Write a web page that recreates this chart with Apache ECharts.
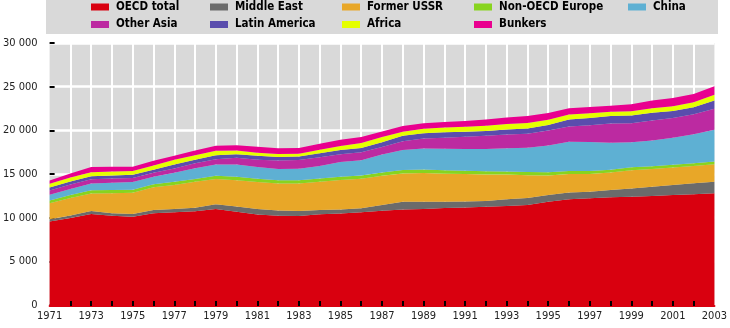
<!DOCTYPE html>
<html>
<head>
<meta charset="utf-8">
<script src="https://cdn.jsdelivr.net/npm/echarts@6/dist/echarts.min.js"></script>
<style>html,body{margin:0;padding:0;background:#fff;}#c{width:730px;height:328px;}</style>
</head>
<body>
<div id="c"></div>
<script>
const years = [1971,1972,1973,1974,1975,1976,1977,1978,1979,1980,1981,1982,1983,1984,1985,1986,1987,1988,1989,1990,1991,1992,1993,1994,1995,1996,1997,1998,1999,2000,2001,2002,2003].map(String);

const oecdTotal    = [9560,9960,10420,10230,10110,10500,10610,10730,10990,10680,10360,10210,10190,10390,10480,10610,10800,10930,10990,11110,11160,11240,11340,11450,11820,12100,12220,12330,12400,12480,12600,12680,12790];
const middleEast   = [250,290,330,280,310,370,380,410,560,600,620,600,560,490,460,470,650,880,830,700,690,670,760,810,780,790,760,840,950,1050,1140,1250,1330];
const formerUSSR   = [1830,2000,2030,2290,2440,2600,2750,2960,2870,3000,3090,3110,3170,3240,3370,3390,3350,3260,3290,3210,3150,3030,2840,2610,2220,2100,2030,1990,2090,2030,1990,1980,1990];
const nonOECDEurope= [330,340,370,370,330,370,370,340,370,400,390,360,370,370,380,370,370,400,400,400,370,380,350,360,370,350,340,340,340,340,340,330,330];
const china        = [650,690,770,840,880,840,1030,1230,1310,1400,1330,1280,1300,1430,1680,1740,2060,2290,2400,2480,2500,2550,2660,2770,3060,3340,3320,3090,2860,2940,3090,3320,3630];
const otherAsia    = [490,520,490,480,460,460,500,560,580,780,850,980,1020,1000,900,920,850,1000,1150,1260,1400,1510,1580,1600,1720,1750,1910,2180,2180,2290,2240,2290,2400];
const latinAmerica = [330,330,330,330,380,340,450,400,480,400,440,420,380,460,490,490,550,630,600,610,580,540,560,600,650,800,820,860,880,880,800,780,950];
const africa       = [450,460,460,460,420,500,540,520,500,430,360,330,330,390,460,560,600,450,530,550,570,610,630,650,590,570,570,490,480,530,570,580,650];
const bunkers      = [380,460,600,540,500,550,460,550,570,600,680,660,650,690,690,690,640,650,620,620,650,700,760,780,770,720,690,690,800,880,920,960,980];

const seriesNames = ['OECD total','Middle East','Former USSR','Non-OECD Europe','China','Other Asia','Latin America','Africa','Bunkers'];
const seriesData = [oecdTotal, middleEast, formerUSSR, nonOECDEurope, china, otherAsia, latinAmerica, africa, bunkers];
const seriesColors = ['#d9000f','#6b6b6b','#e8a728','#88d41f','#5eb0d3','#bc2aa1','#5a4dad','#e5ff00','#e9008f'];

const yTicks = [0,5000,10000,15000,20000,25000,30000];

const FONT = "'Liberation Sans Narrow','DejaVu Sans Condensed','Arial Narrow',sans-serif";

const legendSlots = [
  [91,1],[210,1],[342,1],[474,1],[628,1],
  [91,18.5],[210,18.5],[342,18.5],[474,18.5]
];

const chart = echarts.init(document.getElementById('c'), null, {renderer:'canvas'});

const legends = seriesNames.map((n,i)=>({
  data:[n],
  left: legendSlots[i][0],
  top: legendSlots[i][1],
  icon:'rect',
  itemWidth:18,
  itemHeight:7,
  padding:0,
  itemGap:0,
  selectedMode:false,
  textStyle:{fontFamily:FONT,fontWeight:'bold',fontSize:11.5,color:'#000',padding:[0,0,0,2]}
}));

const series = seriesNames.map((n,i)=>({
  name:n,
  type:'line',
  stack:'total',
  data:seriesData[i],
  symbol:'none',
  smooth:false,
  lineStyle:{width:0},
  itemStyle:{color:seriesColors[i]},
  areaStyle:{color:seriesColors[i],opacity:1},
  emphasis:{disabled:true},
  z:2
}));

chart.setOption({
  animation:false,
  backgroundColor:'#ffffff',
  graphic:[{type:'rect',shape:{x:46,y:0,width:672,height:34},style:{fill:'#d9d9d9'},z:-10}],
  legend: legends,
  grid:{left:47,right:12,top:43,bottom:23,show:true,backgroundColor:'#d9d9d9',borderWidth:0},
  xAxis:[{
    type:'category',
    data:years,
    boundaryGap:false,
    axisLine:{show:false},
    axisTick:{show:false},
    axisLabel:{interval:1,margin:6,fontFamily:FONT,fontSize:11,color:'#222'},
    splitLine:{show:true,interval:(i)=>i>0&&i<years.length-1,lineStyle:{color:'#ffffff',width:2}}
  },{
    type:'category',
    data:years,
    boundaryGap:false,
    position:'bottom',
    offset:1,
    z:10,
    axisLine:{show:true,lineStyle:{color:'#d9000f',width:2}},
    axisTick:{show:true,inside:true,length:5,interval:(i)=>i>0&&i<years.length-1,lineStyle:{color:'#000',width:2}},
    axisLabel:{show:false},
    splitLine:{show:false}
  }],
  yAxis:{
    type:'value',
    min:yTicks[0],
    max:yTicks[yTicks.length-1],
    interval:5000,
    axisLine:{show:false},
    axisTick:{show:true,inside:true,length:5,lineStyle:{color:'#000',width:2}},
    axisLabel:{margin:12,fontFamily:FONT,fontSize:11,color:'#222',
      formatter:(v)=>String(v).replace(/\B(?=(\d{3})+(?!\d))/g,' ')},
    splitLine:{show:true,lineStyle:{color:'#ffffff',width:2.5}}
  },
  series: series
});
</script>
</body>
</html>
